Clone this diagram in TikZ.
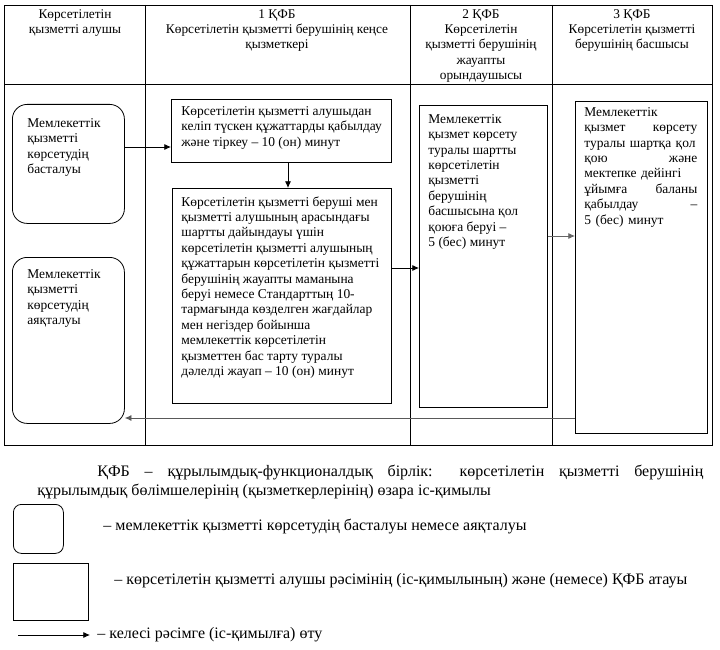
\documentclass[tikz,border=0pt]{standalone}
\usepackage{fontspec}
\setmainfont{Liberation Serif}
\usetikzlibrary{arrows.meta}
\newcommand{\pxu}{0.75pt}
\setlength{\parindent}{0pt}

\begin{document}
\begin{tikzpicture}[
  x=0.75pt, y=-0.75pt, line width=0.6pt,
  box/.style={draw,anchor=north west,inner sep=0pt},
  rbox/.style={box,rounded corners=11pt},
  txt/.style={anchor=north west,inner sep=0pt,align=left,font=\fontsize{10.1}{11.55}\selectfont},
  hdr/.style={anchor=north,inner sep=0pt,align=center,font=\fontsize{10}{11.45}\selectfont},
  note/.style={anchor=west,inner sep=0pt,font=\fontsize{12}{14.25}\selectfont},
  flow/.style={-{Latex[length=5pt,width=4.5pt]}}
]
  \useasboundingbox (0,0) rectangle (720,649);
  \draw (4,5) rectangle (712,445);
  \draw (4,84) -- (712,84);
  \draw (145,5) -- (145,445);
  \draw (410,5) -- (410,445);
  \draw (552,5) -- (552,445);
  \node[hdr] (h0) at (75,9) {Көрсетілетін\\қызметті алушы};
  \node[hdr] (h1) at (277,9) {1 ҚФБ\\Көрсетілетін қызметті берушінің кеңсе\\қызметкері};
  \node[hdr] (h2) at (481,9) {2 ҚФБ\\Көрсетілетін\\қызметті берушінің\\жауапты\\орындаушысы};
  \node[hdr] (h3) at (632,9) {3 ҚФБ\\Көрсетілетін қызметті\\берушінің басшысы};

  \node[rbox,minimum width=112*\pxu,minimum height=119*\pxu] (sb) at (12,104) {};
  \node[rbox,minimum width=112*\pxu,minimum height=166*\pxu] (eb) at (12,257) {};
  \node[box,minimum width=220*\pxu,minimum height=63*\pxu] (bA) at (171,99) {};
  \node[box,minimum width=219*\pxu,minimum height=215*\pxu] (bB) at (172,188) {};
  \node[box,minimum width=128*\pxu,minimum height=302*\pxu] (bC) at (419,105) {};
  \node[box,minimum width=132*\pxu,minimum height=332*\pxu] (bD) at (575,101) {};

  \node[txt] (tS) at (27,118) {Мемлекеттік\\қызметті\\көрсетудің\\басталуы};
  \node[txt] (tE) at (27,269) {Мемлекеттік\\қызметті\\көрсетудің\\аяқталуы};
  \node[txt] (tA) at (181,106) {Көрсетілетін қызметті алушыдан\\келіп түскен құжаттарды қабылдау\\және тіркеу – 10 (он) минут};
  \node[txt] (tB) at (181,196) {Көрсетілетін қызметті беруші мен\\қызметті алушының арасындағы\\шартты дайындауы үшін\\көрсетілетін қызметті алушының\\құжаттарын көрсетілетін қызметті\\берушінің жауапты маманына\\беруі немесе Стандарттың 10-\\тармағында көзделген жағдайлар\\мен негіздер бойынша\\мемлекеттік көрсетілетін\\қызметтен бас тарту туралы\\дәлелді жауап – 10 (он) минут};
  \node[txt] (tC) at (428,114) {Мемлекеттік\\қызмет көрсету\\туралы шартты\\көрсетілетін\\қызметті\\берушінің\\басшысына қол\\қоюға беруі –\\5 (бес) минут};
  \node[txt,text width=113*\pxu] (tD) at (584,107) {Мемлекеттік\\қызмет\hfill көрсету\\туралы шартқа қол\\қою\hfill және\\мектепке дейінгі\\ұйымға\hfill баланы\\қабылдау\hfill –\\5 (бес) минут};

  \draw[flow] (sb.east |- 0,147) -- (bA.west |- 0,147);
  \draw[flow] (bA.south -| 288,0) -- (bB.north -| 288,0);
  \draw[flow] (bB.east |- 0,268) -- (bC.west |- 0,268);
  \draw[flow,black!60] (bC.east |- 0,236) -- (bD.west |- 0,236);
  \draw[flow,black!65] (bD.west |- 0,418) -- (eb.east |- 0,418);

  \node[note,anchor=north west,text width=666*\pxu,align=justify] (kfb) at (37,465) {\hspace*{45pt}ҚФБ – құрылымдық-функционалдық бірлік: көрсетілетін қызметті берушінің\linebreak құрылымдық бөлімшелерінің (қызметкерлерінің) өзара іс-қимылы};
  \node[box,rounded corners=6pt,minimum width=50*\pxu,minimum height=49*\pxu] (lg1) at (13,504) {};
  \node[note] (n1) at (103,526) {– мемлекеттік қызметті көрсетудің басталуы немесе аяқталуы};
  \node[box,minimum width=75*\pxu,minimum height=57*\pxu] (lg2) at (13,563) {};
  \node[note] (n2) at (114,581) {– көрсетілетін қызметті алушы рәсімінің (іс-қимылының) және (немесе) ҚФБ атауы};
  \coordinate (la) at (18,635);
  \coordinate (lb) at (90,635);
  \draw[flow] (la) -- (lb);
  \node[note] (n3) at (97,635) {– келесі рәсімге (іс-қимылға) өту};
\end{tikzpicture}
\end{document}
